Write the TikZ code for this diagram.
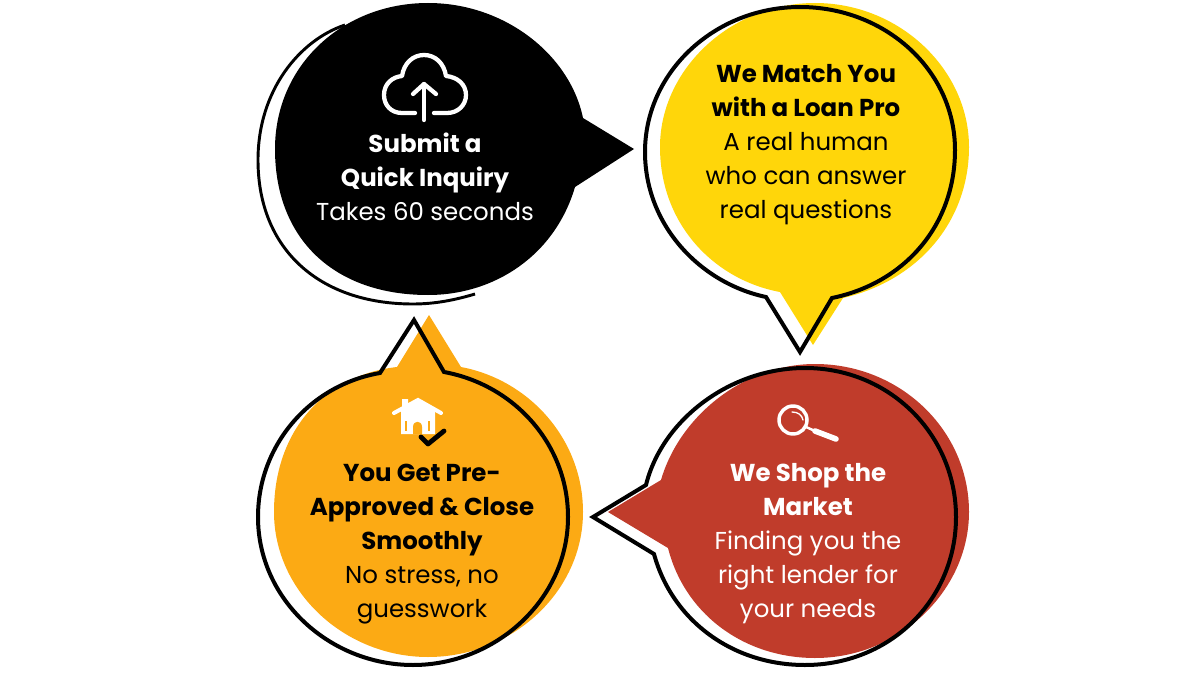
\documentclass[tikz,border=0pt]{standalone}
\usepackage{fontspec}
\setmainfont{Poppins}
\tikzset{
  bubbletext/.style={align=center,inner sep=0.75pt,font=\fontsize{18.35}{25.5}\selectfont},
  outline/.style={draw=black,line width=3pt,line join=miter},
  iconline/.style={line width=3.2pt,line cap=round,line join=round}
}
\begin{document}
\begin{tikzpicture}[x=0.75pt,y=0.75pt,yscale=-1,xscale=1]
\useasboundingbox (0,0) rectangle (1200,674);

%Shape: Outline black
\draw [line width=2.2pt] (345,25) .. controls (300,40) and (258,90) .. (258,160) .. controls (258,250) and (320,304) .. (413,304) .. controls (435,304) and (455,300) .. (475,294) ;
%Shape: Bubble black
\fill [black] (583,118) .. controls (570,55) and (505,3) .. (428,3) .. controls (343,3) and (275,65) .. (275,149) .. controls (275,240) and (335,295) .. (428,295) .. controls (495,295) and (555,255) .. (575,187) -- (634,149) -- cycle ;
%Shape: Bubble yellow
\fill [color={rgb, 255:red, 255; green, 214; blue, 10 }] (780,292) .. controls (715,280) and (660,225) .. (660,147) .. controls (660,70) and (730,3) .. (815,3) .. controls (900,3) and (969,70) .. (969,147) .. controls (969,220) and (920,280) .. (843,298) -- (813,345) -- cycle ;
%Shape: Outline yellow
\draw [outline] (766,297) .. controls (700,283) and (645,225) .. (645,152) .. controls (645,72) and (715,7) .. (800,7) .. controls (885,7) and (955,70) .. (955,150) .. controls (955,225) and (905,283) .. (832,298) -- (800,352) -- cycle ;
%Shape: Bubble red
\fill [color={rgb, 255:red, 192; green, 60; blue, 43 }] (661,480) .. controls (680,415) and (745,364) .. (815,364) .. controls (900,364) and (969,430) .. (969,512) .. controls (969,590) and (900,658) .. (815,658) .. controls (745,658) and (685,615) .. (668,548) -- (608,512) -- cycle ;
%Shape: Outline red
\draw [outline] (646,485) .. controls (662,420) and (730,368) .. (805,368) .. controls (890,368) and (956,435) .. (956,517) .. controls (956,600) and (890,665) .. (805,665) .. controls (732,665) and (672,620) .. (654,554) -- (593,517) -- cycle ;
%Shape: Bubble orange
\fill [color={rgb, 255:red, 252; green, 170; blue, 20 }] (397,367) .. controls (325,375) and (274,430) .. (274,512) .. controls (274,592) and (345,657) .. (428,657) .. controls (512,657) and (583,592) .. (583,512) .. controls (583,440) and (530,380) .. (461,367) -- (429,315) -- cycle ;
%Shape: Outline orange
\draw [outline] (380,373) .. controls (310,385) and (258,445) .. (258,517) .. controls (258,600) and (330,665) .. (413,665) .. controls (495,665) and (568,600) .. (568,517) .. controls (568,445) and (515,385) .. (444,372) -- (414,320) -- cycle ;

%Shape: Cloud
\draw [white,iconline] (415,113) -- (402,113) .. controls (391,113) and (384,105) .. (384,95) .. controls (384,84) and (392,77) .. (402,76) .. controls (404,63) and (413,55) .. (424,55) .. controls (435,55) and (444,63) .. (446,76) .. controls (457,77) and (466,84) .. (466,95) .. controls (466,105) and (458,113) .. (447,113) -- (434,113) ;
\draw [white,iconline] (424,120) -- (424,84) ;
\draw [white,iconline] (413,94) -- (424,84) -- (436,94) ;

%Shape: House
\fill [white] (401,434) -- (401,411) -- (418,401) -- (435,411) -- (435,434) -- cycle ;
\fill [white] (402,399) -- (408,399) -- (408,408) -- (402,411) -- cycle ;
\draw [white,line width=3pt,line cap=round,line join=miter] (394,413) -- (418,400) -- (441,413) ;
\fill [color={rgb, 255:red, 252; green, 170; blue, 20 }] (413,434) -- (413,427) .. controls (413,420) and (422,420) .. (422,427) -- (422,434) -- cycle ;
\fill [color={rgb, 255:red, 252; green, 170; blue, 20 }] (405,421) rectangle (407,431) ;
\fill [color={rgb, 255:red, 252; green, 170; blue, 20 }] (428,421) rectangle (430,431) ;
\draw [black,line width=3.6pt,line cap=round,line join=round] (421,437) -- (428,444) -- (444,431) ;

%Shape: Magnifier
\draw [white,line width=2.6pt] (793,420) circle [radius=14] ;
\draw [white,line width=1pt,line cap=round] (792,412) .. controls (798,412) and (802,415) .. (803,420) ;
\draw [white,line width=1.8pt] (806,427) -- (815,431) ;
\draw [white,line width=4.2pt,line cap=round] (815,431) -- (836,439) ;

% Text Node
\node (inquiry) [bubbletext,text=white] at (425,177) {\textbf{Submit a}\\\textbf{Quick Inquiry}\\Takes 60 seconds};
% Text Node
\node (match) [bubbletext,text=black] at (806,145) {\textbf{We Match You}\\\textbf{with a Loan Pro}\\A real human\\who can answer\\real questions};
% Text Node
\node (market) [bubbletext,text=white] at (808,544) {\textbf{We Shop the}\\\textbf{Market}\\Finding you the\\right lender for\\your needs};
% Text Node
\node (approved) [bubbletext,text=black] at (422,544) {\textbf{You Get Pre-}\\\textbf{Approved \& Close}\\\textbf{Smoothly}\\No stress, no\\guesswork};
\end{tikzpicture}
\end{document}
